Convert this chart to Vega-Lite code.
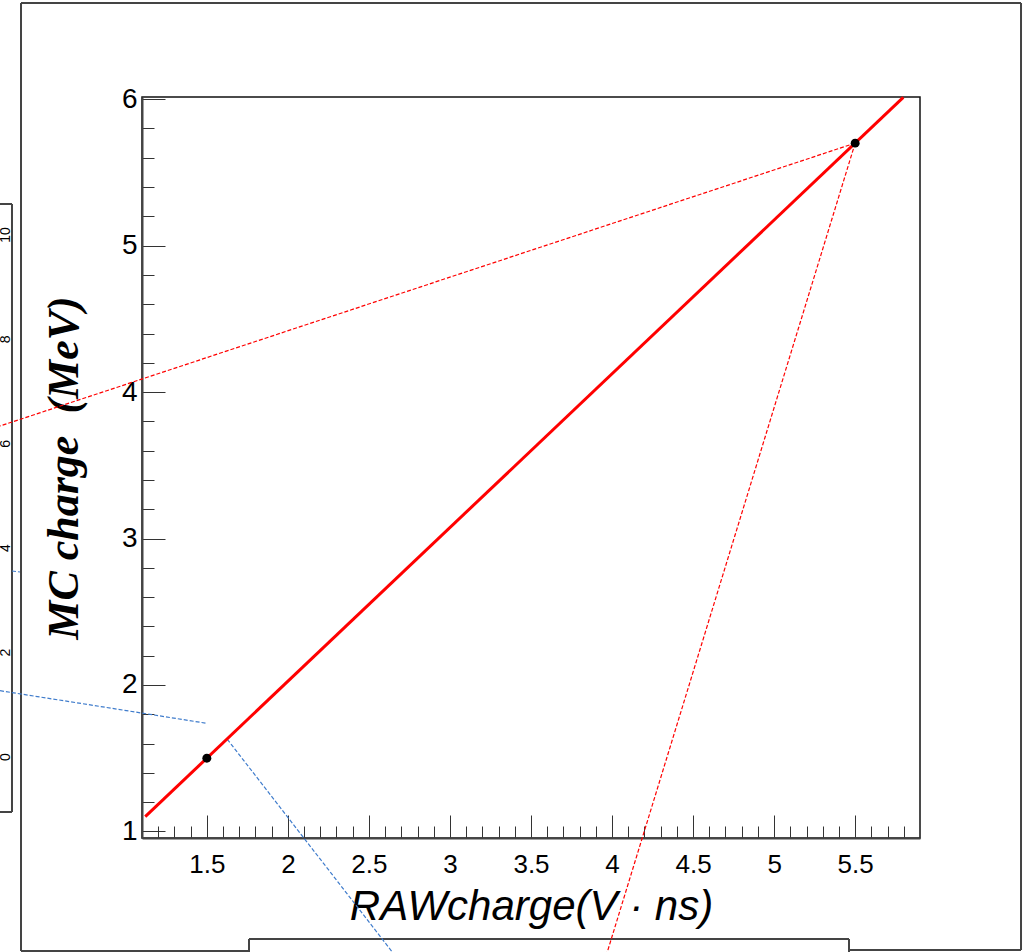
{
  "$schema": "https://vega.github.io/schema/vega-lite/v6.json",
  "autosize": {"type": "none"},
  "padding": {"left": 142, "top": 97, "right": 105, "bottom": 114},
  "width": 778,
  "height": 741,
  "background": "white",
  "config": {"view": {"stroke": "#111", "strokeWidth": 1.5}},
  "datasets": {
    "frame": [
      {"x": 0.3535, "y": 6.657, "x2": 0.3535, "y2": 0.1834},
      {"x": 0.3535, "y": 6.657, "x2": 6.5232, "y2": 6.657},
      {"x": 6.5232, "y": 6.657, "x2": 6.5232, "y2": 0.1902},
      {"x": 5.462, "y": 0.1902, "x2": 6.5232, "y2": 0.1902},
      {"x": 0.3535, "y": 0.1834, "x2": 1.7602, "y2": 0.1834},
      {"x": 1.7602, "y": 0.2653, "x2": 5.462, "y2": 0.2653},
      {"x": 1.7602, "y": 0.2653, "x2": 1.7602, "y2": 0.17},
      {"x": 5.462, "y": 0.2653, "x2": 5.462, "y2": 0.17},
      {"x": 0.2979, "y": 5.2844, "x2": 0.2979, "y2": 1.1325},
      {"x": 0.2, "y": 5.2844, "x2": 0.2979, "y2": 5.2844},
      {"x": 0.2, "y": 1.1325, "x2": 0.2979, "y2": 1.1325}
    ],
    "redDashed": [
      {"x": 5.5, "y": 5.7, "x2": 0.2239, "y2": 3.7684},
      {"x": 5.5, "y": 5.7, "x2": 3.9689, "y2": 0.17}
    ],
    "blueDashed": [
      {"x": 0.2239, "y": 1.961, "x2": 1.4992, "y2": 1.7383},
      {"x": 1.6263, "y": 1.629, "x2": 2.6486, "y2": 0.17},
      {"x": 0.2979, "y": 2.7783, "x2": 0.3473, "y2": 2.7715}
    ],
    "sideLabels": [
      {"x": 0.2609, "y": 1.5081, "label": "0"},
      {"x": 0.2609, "y": 2.221, "label": "2"},
      {"x": 0.2609, "y": 2.934, "label": "4"},
      {"x": 0.2609, "y": 3.6469, "label": "6"},
      {"x": 0.2609, "y": 4.3598, "label": "8"},
      {"x": 0.2609, "y": 5.0727, "label": "10"}
    ],
    "fit": [
      {"x": 1.12, "y": 1.101},
      {"x": 5.797, "y": 6.012}
    ],
    "points": [
      {"x": 1.5, "y": 1.5},
      {"x": 5.5, "y": 5.7}
    ]
  },
  "encoding": {
    "x": {
      "field": "x", "type": "quantitative",
      "scale": {"domain": [1.1, 5.9], "nice": false, "zero": false},
      "axis": {
        "values": [1.2,1.3,1.4,1.5,1.6,1.7,1.8,1.9,2,2.1,2.2,2.3,2.4,2.5,2.6,2.7,2.8,2.9,3,3.1,3.2,3.3,3.4,3.5,3.6,3.7,3.8,3.9,4,4.1,4.2,4.3,4.4,4.5,4.6,4.7,4.8,4.9,5,5.1,5.2,5.3,5.4,5.5,5.6,5.7,5.8],
        "tickSize": {"condition": {"test": "abs(datum.value*2 - round(datum.value*2)) < 0.001", "value": -23}, "value": -12},
        "labelExpr": "abs(datum.value*2 - round(datum.value*2)) < 0.001 ? format(datum.value, '.1~f') : ''",
        "labelPadding": 36,
        "labelFont": "Liberation Sans", "labelFontSize": 26, "labelColor": "black",
        "labelFlush": false, "labelOverlap": false,
        "tickColor": "#333", "tickWidth": 1,
        "domainColor": "#444", "domainWidth": 2,
        "grid": false,
        "title": "RAWcharge(V · ns)",
        "titleFont": "Liberation Sans", "titleFontStyle": "italic", "titleFontWeight": "normal",
        "titleFontSize": 42, "titleColor": "black", "titlePadding": -2
      }
    },
    "y": {
      "field": "y", "type": "quantitative",
      "scale": {"domain": [0.955, 6.015], "nice": false, "zero": false},
      "axis": {
        "values": [1,1.2,1.4,1.6,1.8,2,2.2,2.4,2.6,2.8,3,3.2,3.4,3.6,3.8,4,4.2,4.4,4.6,4.8,5,5.2,5.4,5.6,5.8,6],
        "tickSize": {"condition": {"test": "abs(datum.value - round(datum.value)) < 0.001", "value": -23}, "value": -12},
        "labelExpr": "abs(datum.value - round(datum.value)) < 0.001 ? format(datum.value, '.0f') : ''",
        "labelPadding": 28,
        "labelFont": "Liberation Sans", "labelFontSize": 28, "labelColor": "black",
        "labelFlush": false, "labelOverlap": false,
        "tickColor": "#333", "tickWidth": 1,
        "domainColor": "#444", "domainWidth": 2,
        "grid": false,
        "title": "MC charge\u00a0 (MeV)",
        "titleFont": "Liberation Serif", "titleFontStyle": "italic", "titleFontWeight": "bold",
        "titleFontSize": 44, "titleColor": "black", "titlePadding": 35
      }
    }
  },
  "layer": [
    {
      "data": {"name": "frame"},
      "mark": {"type": "rule", "color": "#444", "strokeWidth": 2, "clip": false},
      "encoding": {
        "x2": {"field": "x2"},
        "y2": {"field": "y2"}
      }
    },
    {
      "data": {"name": "redDashed"},
      "mark": {"type": "rule", "color": "#ff0000", "strokeWidth": 1.2, "strokeDash": [4, 2], "clip": false},
      "encoding": {
        "x2": {"field": "x2"},
        "y2": {"field": "y2"}
      }
    },
    {
      "data": {"name": "blueDashed"},
      "mark": {"type": "rule", "color": "#3f7ccc", "strokeWidth": 1.2, "strokeDash": [4, 2], "clip": false},
      "encoding": {
        "x2": {"field": "x2"},
        "y2": {"field": "y2"}
      }
    },
    {
      "data": {"name": "sideLabels"},
      "mark": {"type": "text", "angle": 270, "align": "center", "baseline": "middle", "font": "Liberation Sans", "fontSize": 14, "color": "black", "clip": false},
      "encoding": {
        "text": {"field": "label"}
      }
    },
    {
      "data": {"name": "fit"},
      "mark": {"type": "line", "color": "#ff0000", "strokeWidth": 3},
      "encoding": {}
    },
    {
      "data": {"name": "points"},
      "mark": {"type": "point", "shape": "circle", "filled": true, "color": "black", "size": 80, "opacity": 1},
      "encoding": {}
    }
  ]
}
